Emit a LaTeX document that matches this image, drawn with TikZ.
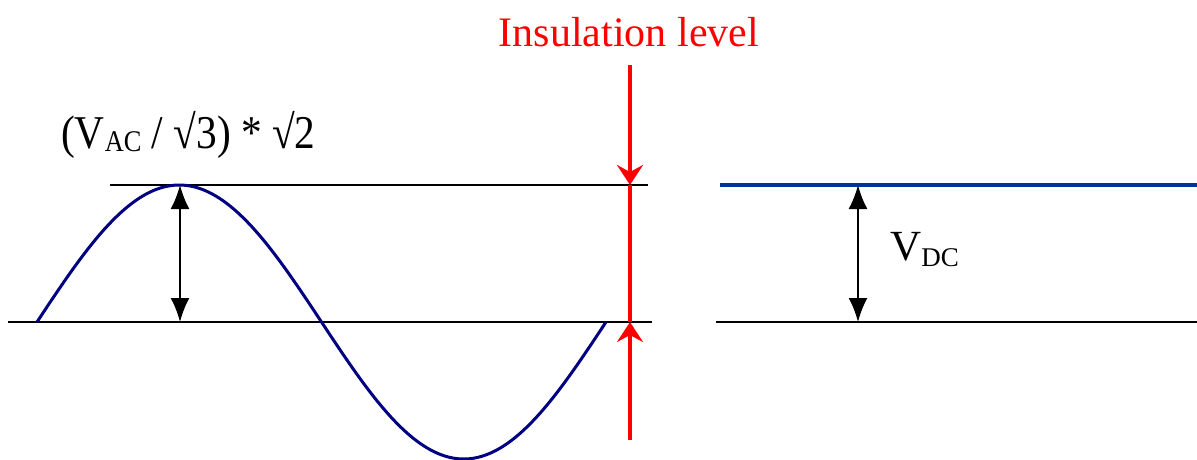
\documentclass[tikz,border=0pt]{standalone}
\usepackage{fontspec}
\setmainfont{Liberation Serif}
\usetikzlibrary{arrows.meta}
\definecolor{sinenavy}{RGB}{0,0,128}
\definecolor{dcblue}{RGB}{0,51,153}
\newcommand\mysub[3]{\raisebox{-#2}{\fontsize{#3}{#3}\selectfont #1}}
\tikzset{
  thinline/.style={line width=1.3pt, black},
  dimarrow/.style={line width=2pt, black, arrows={Latex[length=24pt,width=19pt]-Latex[length=24pt,width=19pt]}},
  redline/.style={line width=4pt, red},
  redarrow/.style={line width=4pt, red, arrows={-Stealth[length=20pt,width=26pt,inset=7pt]}},
  lbl/.style={inner sep=0pt, font=\fontsize{40}{40}\selectfont}
}
\begin{document}
\begin{tikzpicture}[x=1pt,y=-1pt]
\useasboundingbox (0,0) rectangle (1197,459);
% coordinates
\coordinate (topL) at (110,185);
\coordinate (topR) at (648,185);
\coordinate (botL) at (8,322);
\coordinate (botR) at (652,322);
\coordinate (peak) at (180,185);
\coordinate (peakbase) at (180,322);
\coordinate (redtop) at (630,65);
\coordinate (redbot) at (630,440);
\coordinate (redA) at (630,185);
\coordinate (redB) at (630,322);
\coordinate (dcL) at (720,185);
\coordinate (dcR) at (1197,185);
\coordinate (gL) at (716,322);
\coordinate (gR) at (1197,322);
\coordinate (dcA) at (858,185);
\coordinate (dcB) at (858,322);
% reference lines
\draw[thinline] (topL) -- (topR);
\draw[thinline] (botL) -- (botR);
\draw[thinline] (gL) -- (gR);
% sine
\draw[sinenavy, line width=3pt, line join=round]
  plot[domain=37:606, samples=120, smooth] (\x, {322-137*sin((\x-37)/569*360)});
% dimension arrows
\draw[dimarrow] (peak) -- (peakbase);
\draw[dimarrow] (dcA) -- (dcB);
% DC line
\draw[dcblue, line width=4pt] (dcL) -- (dcR);
% insulation level
\draw[redline] (redA) -- (redB);
\draw[redarrow] (redtop) -- (redA);
\draw[redarrow] (redbot) -- (redB);
% labels
\node[lbl, red, font=\fontsize{42}{42}\selectfont, anchor=base] (ins) at (629,46) {Insulation level};
\node[lbl, font=\fontsize{47}{47}\selectfont, xscale=0.88, anchor=base west] (aclbl) at (61,148) {(V\mysub{AC}{3pt}{30} / √3) * √2};
\node[lbl, font=\fontsize{43}{43}\selectfont, anchor=base west] (dclbl) at (890,260) {V\mysub{DC}{6pt}{27}};
\end{tikzpicture}
\end{document}
